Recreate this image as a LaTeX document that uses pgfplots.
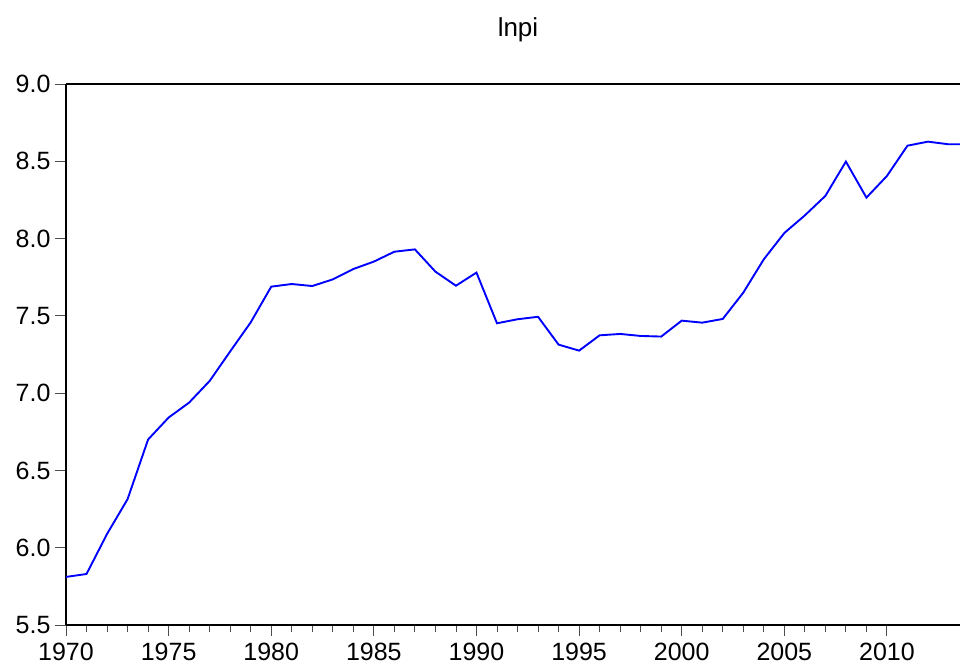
\documentclass[border=0pt]{standalone}
\usepackage{fontspec}
\setmainfont{Liberation Sans}
\usepackage{pgfplots}
\pgfplotsset{compat=1.18}
\begin{document}
\begin{tikzpicture}[x=1pt,y=1pt]
\begin{axis}[
  at={(0,0)}, anchor=south west,
  scale only axis, width=894pt, height=541pt,
  xmin=1970, xmax=2013.56, ymin=5.5, ymax=9.0,
  axis x line=box, axis y line=left,
  axis line style={line width=1.5pt, -},
  xtick={1970,1975,...,2010}, minor x tick num=4,
  ytick={5.5,6.0,...,9.0},
  xtick pos=bottom, ytick pos=left,
  tick align=outside,
  major tick length=11pt, minor tick length=7pt,
  tick style={line width=0.9pt, color=black!70},
  /pgf/number format/assume math mode=true,
  xticklabel style={/pgf/number format/1000 sep={}, font=\fontsize{25}{29}\selectfont, yshift=-4pt},
  yticklabel style={/pgf/number format/fixed, /pgf/number format/fixed zerofill, /pgf/number format/precision=1, font=\fontsize{25}{29}\selectfont, xshift=-1pt},
  clip=true,
]
\addplot[blue, line width=1.9pt] coordinates {
(1970,5.811) (1971,5.830) (1972,6.089) (1973,6.314) (1974,6.700)
(1975,6.842) (1976,6.939) (1977,7.079) (1978,7.270) (1979,7.458)
(1980,7.689) (1981,7.706) (1982,7.693) (1983,7.736) (1984,7.803)
(1985,7.851) (1986,7.915) (1987,7.930) (1988,7.786) (1989,7.695)
(1990,7.780) (1991,7.452) (1992,7.478) (1993,7.494) (1994,7.314)
(1995,7.275) (1996,7.374) (1997,7.383) (1998,7.370) (1999,7.366)
(2000,7.469) (2001,7.456) (2002,7.480) (2003,7.650) (2004,7.866)
(2005,8.036) (2006,8.150) (2007,8.276) (2008,8.498) (2009,8.265)
(2010,8.405) (2011,8.601) (2012,8.627) (2013,8.610) (2014,8.610)
};
\end{axis}
\node[anchor=base, font=\fontsize{26}{30}\selectfont, inner sep=0pt] at (452,588.3) {lnpi};
\pgfresetboundingbox
\path (-66,-41) rectangle (894,625);
\end{tikzpicture}
\end{document}
